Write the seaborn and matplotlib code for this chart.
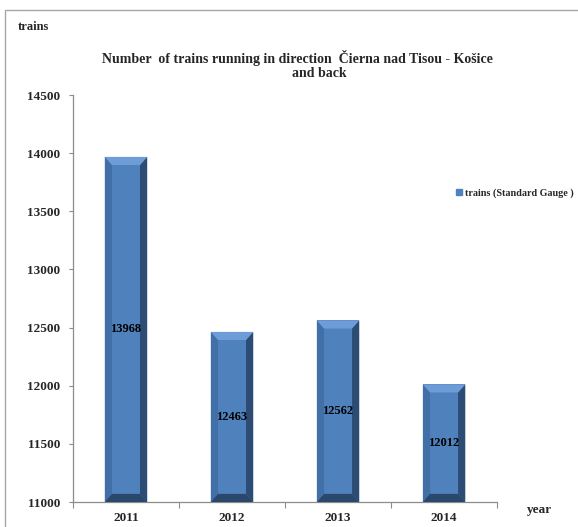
import matplotlib
matplotlib.use("Agg")
import matplotlib.pyplot as plt
from matplotlib.patches import Polygon, Rectangle
from matplotlib.lines import Line2D
import seaborn as sns
import pandas as pd

# Data
years = ["2011", "2012", "2013", "2014"]
trains = [13968, 12463, 12562, 12012]
series_name = "trains (Standard Gauge )"
y_ticks = [11000, 11500, 12000, 12500, 13000, 13500, 14000, 14500]

df = pd.DataFrame({"year": years, "trains": trains})

sns.set_theme(style="white")
plt.rcParams["font.family"] = ["Liberation Serif", "DejaVu Serif"]
plt.rcParams["font.weight"] = "bold"

fig = plt.figure(figsize=(5.78, 5.27), dpi=100)
ax = fig.add_axes([0.1263, 0.0474, 0.7337, 0.7723])

face = "#4F81BD"
sns.barplot(data=df, x="year", y="trains", color=face, width=0.40,
            saturation=1, ax=ax, edgecolor="none", linewidth=0)

ax.set_ylim(y_ticks[0], y_ticks[-1])
ax.set_xlim(-0.5, len(years) - 0.5)

# Bevelled look for each bar
ymin = y_ticks[0]
for p, val in zip(ax.patches, trains):
    x0 = p.get_x()
    w = p.get_width()
    x1 = x0 + w
    y0 = max(p.get_y(), ymin)
    y1 = p.get_y() + p.get_height()
    bx = w * 0.17
    by = (y_ticks[-1] - y_ticks[0]) * 0.02
    # left strip
    ax.add_patch(Polygon([(x0, y0), (x0 + bx, y0 + by), (x0 + bx, y1 - by), (x0, y1)],
                         closed=True, color="#416FA8", lw=0, zorder=3))
    # right strip
    ax.add_patch(Polygon([(x1, y0), (x1 - bx, y0 + by), (x1 - bx, y1 - by), (x1, y1)],
                         closed=True, color="#2D4C75", lw=0, zorder=3))
    # top bevel
    ax.add_patch(Polygon([(x0, y1), (x0 + bx, y1 - by), (x1 - bx, y1 - by), (x1, y1)],
                         closed=True, color="#6D9CD6", lw=0, zorder=3))
    # bottom bevel
    ax.add_patch(Polygon([(x0, y0), (x0 + bx, y0 + by), (x1 - bx, y0 + by), (x1, y0)],
                         closed=True, color="#2A476C", lw=0, zorder=3))
    ax.text(x0 + w / 2, (y0 + y1) / 2, f"{val}", ha="center", va="center",
            fontsize=9, fontweight="bold", color="black", zorder=4)

# Axes styling
for s in ["top", "right"]:
    ax.spines[s].set_visible(False)
for s in ["left", "bottom"]:
    ax.spines[s].set_color("#8C8C8C")
    ax.spines[s].set_linewidth(0.9)

ax.set_yticks(y_ticks)
ax.set_yticklabels([str(t) for t in y_ticks], fontsize=9.5, fontweight="bold")
ax.tick_params(axis="y", length=3, width=0.8, color="#8C8C8C", direction="out",
               left=True, pad=6)
ax.set_xticks(range(len(years)))
ax.set_xticklabels(years, fontsize=9.5, fontweight="bold")
ax.tick_params(axis="x", length=0, pad=7)
# category boundary ticks
ax.set_xticks([i + 0.5 for i in range(-1, len(years))], minor=True)
ax.tick_params(axis="x", which="minor", length=4, width=0.8, color="#8C8C8C",
               direction="out", bottom=True)
ax.set_xlabel("")
ax.set_ylabel("")
ax.grid(False)

# Titles and axis captions
fig.text(0.514, 0.890, "Number  of trains running in direction  Čierna nad Tisou - Košice",
         ha="center", va="center", fontsize=10, fontweight="bold")
fig.text(0.552, 0.861, "and back", ha="center", va="center", fontsize=10, fontweight="bold")
fig.text(0.031, 0.948, "trains", ha="left", va="center", fontsize=9, fontweight="bold")
fig.text(0.912, 0.032, "year", ha="left", va="center", fontsize=9.5, fontweight="bold")

# Legend
handle = Line2D([], [], marker="s", color=face, linestyle="none", markersize=4)
fig.legend([handle], [series_name], loc="center left", bbox_to_anchor=(0.772, 0.634),
           frameon=False, fontsize=7.3, handletextpad=0.2, handlelength=0.8)

# Chart border
fig.patches.append(Rectangle((0.009, -0.01), 1.0, 0.991, transform=fig.transFigure,
                             fill=False, edgecolor="#A6A6A6", linewidth=1.0))

fig.savefig("out.png", dpi=100)
